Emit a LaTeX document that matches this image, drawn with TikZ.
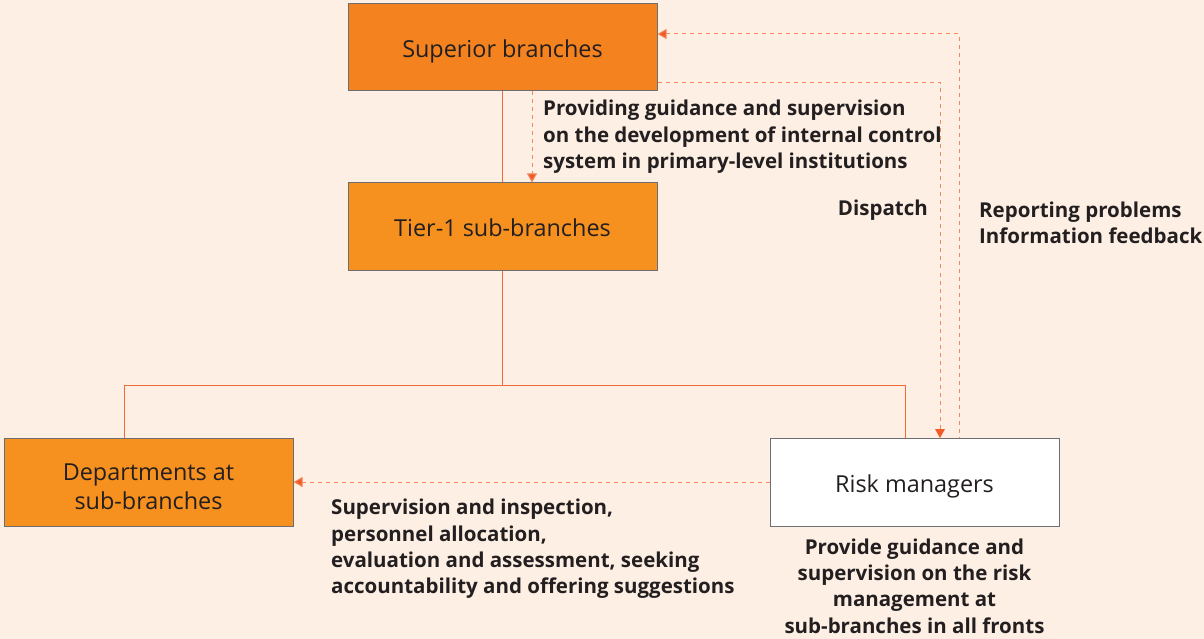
\documentclass[tikz,border=0pt]{standalone}
\usepackage{fontspec}
\setmainfont{Open Sans}
\usepackage{tikz}
\usetikzlibrary{positioning, arrows.meta}
\definecolor{bgpeach}{HTML}{FDEFE3}
\definecolor{topfill}{HTML}{F4821F}
\definecolor{boxfill}{HTML}{F6901E}
\definecolor{boxline}{HTML}{6D6E71}
\definecolor{linkline}{HTML}{F26B3A}
\definecolor{dashline}{HTML}{F38A5E}
\definecolor{tipred}{HTML}{F15A29}
\definecolor{inktext}{HTML}{231F20}
\tikzset{
  block/.style={rectangle, draw=boxline, line width=1pt, fill=boxfill, minimum width=309pt, minimum height=87pt, align=center, text=inktext, text height=24pt, text depth=4pt, font=\fontsize{23.4}{29}\selectfont},
  lowblock/.style={block, minimum width=289pt, minimum height=88pt},
  note/.style={align=left, text=inktext, inner sep=0pt, font=\fontsize{20.5}{26.3}\selectfont\bfseries},
  link/.style={draw=linkline, line width=1pt},
  flow/.style={draw=dashline, line width=1pt, dash pattern=on 4pt off 4pt, -{Triangle[length=9pt, width=10pt, fill=tipred]}},
}

\begin{document}
\begin{tikzpicture}[x=1pt, y=-1pt]

  \useasboundingbox[fill=bgpeach] (0,0) rectangle (1204,639);

  % Nodes
  \node[block, fill=topfill] (superior) at (502.5,47.5) {Superior branches};
  \node[block] (tier) at (502.5,226.5) {Tier-1 sub-branches};
  \node[lowblock, text height=58pt] (dept) at (148.5,482) {Departments at\\sub-branches};
  \node[lowblock, fill=white] (risk) at (914.5,482) {Risk managers};

  % Tree lines
  \coordinate (fork) at (502.5,385);
  \draw[link] (superior) -- (tier);
  \draw[link] (tier) -- (fork);
  \draw[link] (fork) -| (dept.north -| 124,0);
  \draw[link] (fork) -| (risk.north -| 905,0);

  % Arrows
  \draw[flow] (superior.south -| 532,0) -- (tier.north -| 532,0);
  \draw[flow, -] (superior.east |- 0,83) -| (risk.north -| 940,0);
  \draw[flow, {Triangle[length=9pt, width=10pt, fill=tipred]}-] (superior.east |- 0,34) -| (risk.north -| 959,0);
  \draw[flow] (risk) -- (dept);
  \draw[draw=none, fill=tipred] (940,438) -- ++(-5,-9) -- ++(10,0) -- cycle;

  % Labels
  \node[note, anchor=north west] (guide) at (543,100) {Providing guidance and supervision\\on the development of internal control\\system in primary-level institutions};
  \node[note, anchor=east] (dispatch) at (928,210) {Dispatch};
  \node[note, anchor=west] (report) at (979,223) {Reporting problems\\Information feedback};
  \node[note, anchor=north west] (duties) at (331,499) {Supervision and inspection,\\personnel allocation,\\evaluation and assessment, seeking\\accountability and offering suggestions};
  \node[note, align=center, below=12pt of risk] (riskguide) {Provide guidance and\\supervision on the risk\\management at\\sub-branches in all fronts};

\end{tikzpicture}
\end{document}
